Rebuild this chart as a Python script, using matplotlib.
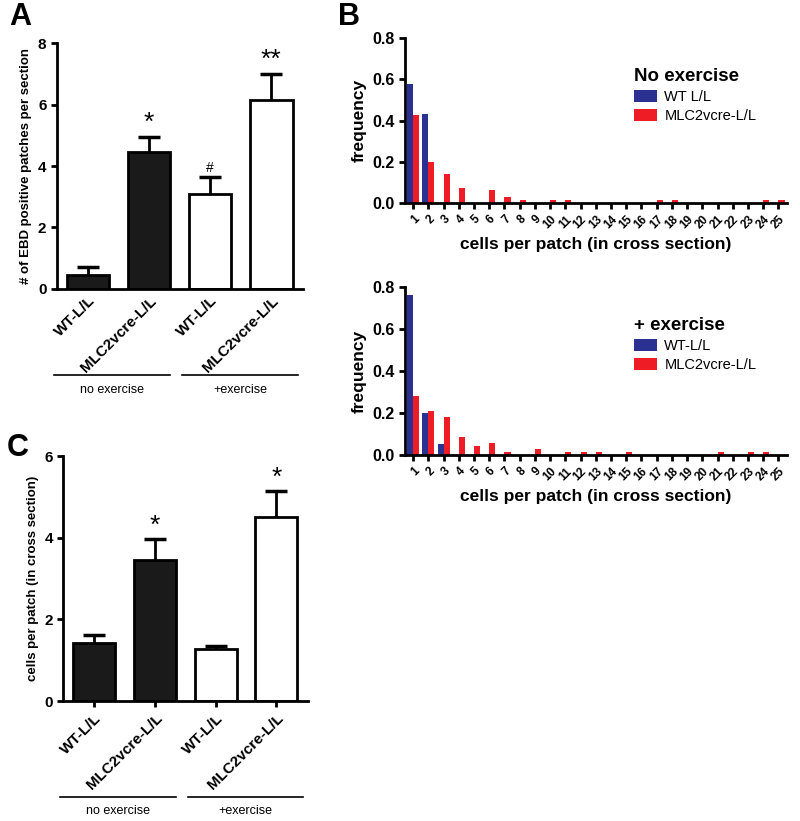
import numpy as np
import matplotlib
matplotlib.use('Agg')
from matplotlib import pyplot as plt
from matplotlib.patches import Patch

plt.rcParams['font.family'] = ['Liberation Sans', 'DejaVu Sans']

# panel A: EBD positive patches per section
groups = ['WT-L/L', 'MLC2vcre-L/L', 'WT-L/L', 'MLC2vcre-L/L']
a_mean = [0.45, 4.45, 3.1, 6.15]
a_err = [0.25, 0.5, 0.55, 0.85]
a_marks = ['', '*', '#', '**']

# panel C: cells per patch
c_mean = [1.42, 3.45, 1.28, 4.5]
c_err = [0.2, 0.52, 0.07, 0.65]
c_marks = ['', '*', '', '*']

bar_fill = ['#1a1a1a', '#1a1a1a', 'white', 'white']

# panel B: frequency distributions
cells = list(range(1, 26))
noex_wt = [0.575, 0.43] + [0] * 23
noex_mlc = [0.425, 0.2, 0.14, 0.075, 0, 0.065, 0.03, 0.015, 0, 0.015,
            0.015, 0, 0, 0, 0, 0, 0.015, 0.015, 0, 0, 0, 0, 0, 0.015, 0.015]
ex_wt = [0.76, 0.2, 0.05] + [0] * 22
ex_mlc = [0.28, 0.21, 0.18, 0.085, 0.045, 0.058, 0.015, 0, 0.03, 0,
          0.015, 0.015, 0.015, 0, 0.015, 0, 0, 0, 0, 0, 0.015, 0, 0.015, 0.015, 0]

BLUE = '#2b3190'
RED = '#ee1c25'


def style_axis(ax):
    for s in ['top', 'right']:
        ax.spines[s].set_visible(False)
    for s in ['left', 'bottom']:
        ax.spines[s].set_linewidth(2)
    ax.tick_params(width=2, length=4, direction='out')


def bar_panel(ax, means, errs, marks, ymax, ylabel, mark_off, line_y, text_y, show_xticks):
    x = np.arange(len(means))
    ax.bar(x, means, width=0.69, color=bar_fill, edgecolor='black', linewidth=2, zorder=2)
    ax.vlines(x, means, np.array(means) + np.array(errs), color='black', lw=2, zorder=1)
    ax.hlines(np.array(means) + np.array(errs), x - 0.18, x + 0.18, color='black', lw=2.5, zorder=1)
    for xi, m, e, t in zip(x, means, errs, marks):
        if t:
            fs = 19 if '*' in t else 10
            ax.text(xi, m + e + mark_off, t, ha='center', va='bottom', fontsize=fs)
    ax.set_xlim(-0.51, 3.52)
    ax.set_ylim(0, ymax)
    ax.set_yticks(np.arange(0, ymax + 1, 2))
    ax.set_xticks(x)
    ax.set_xticklabels(groups, rotation=45, ha='right', rotation_mode='anchor',
                       fontsize=11, fontweight='bold')
    style_axis(ax)
    if not show_xticks:
        ax.tick_params(axis='x', length=0)
    for lab in ax.get_yticklabels():
        lab.set_fontweight('bold')
        lab.set_fontsize(11)
    ax.set_ylabel(ylabel, fontsize=9.5, fontweight='bold')
    trans = ax.get_xaxis_transform()
    for (x0, x1, txt) in [(-0.56, 1.34, 'no exercise'), (1.54, 3.44, '+exercise')]:
        ax.plot([x0, x1], [line_y, line_y], color='black', lw=1.2, transform=trans, clip_on=False)
        ax.text((x0 + x1) / 2, text_y, txt, ha='center', va='top', fontsize=9, transform=trans)


def freq_panel(ax, wt, mlc, title, wt_label):
    x = np.array(cells)
    ax.bar(x - 0.2, wt, width=0.4, color=BLUE, zorder=2)
    ax.bar(x + 0.2, mlc, width=0.4, color=RED, zorder=2)
    ax.set_xlim(0.45, 25.55)
    ax.set_ylim(0, 0.8)
    ax.set_yticks([0, 0.2, 0.4, 0.6, 0.8])
    ax.set_yticklabels(['0.0', '0.2', '0.4', '0.6', '0.8'], fontsize=11.5, fontweight='bold')
    ax.set_xticks(x)
    ax.set_xticklabels([str(c) for c in cells], rotation=45, ha='right', rotation_mode='anchor',
                       fontsize=8.5, fontweight='bold')
    style_axis(ax)
    ax.set_ylabel('frequency', fontsize=12.5, fontweight='bold')
    ax.set_xlabel('cells per patch (in cross section)', fontsize=12.5, fontweight='bold')
    handles = [Patch(facecolor=BLUE, label=wt_label), Patch(facecolor=RED, label='MLC2vcre-L/L')]
    ax.legend(handles=handles, title=title, loc='upper left', bbox_to_anchor=(0.565, 0.9),
              frameon=False, fontsize=10.5, handlelength=1.6, handleheight=0.9,
              handletextpad=0.5, labelspacing=0.35, alignment='left',
              title_fontproperties={'weight': 'bold', 'size': 13.5})


fig = plt.figure(figsize=(8, 8.21), dpi=100)

axA = fig.add_axes([0.071, 0.648, 0.308, 0.2996])
bar_panel(axA, a_mean, a_err, a_marks, 8, '# of EBD positive patches per section',
          0.05, -0.35, -0.385, False)

axC = fig.add_axes([0.079, 0.146, 0.306, 0.2984])
bar_panel(axC, c_mean, c_err, c_marks, 6, 'cells per patch (in cross section)',
          0.03, -0.39, -0.425, True)

axB1 = fig.add_axes([0.506, 0.7527, 0.4775, 0.201])
freq_panel(axB1, noex_wt, noex_mlc, 'No exercise', 'WT L/L')

axB2 = fig.add_axes([0.506, 0.4458, 0.4775, 0.2046])
freq_panel(axB2, ex_wt, ex_mlc, '+ exercise', 'WT-L/L')

fig.text(0.012, 0.997, 'A', fontsize=22, fontweight='bold', va='top')
fig.text(0.422, 0.997, 'B', fontsize=22, fontweight='bold', va='top')
fig.text(0.008, 0.472, 'C', fontsize=22, fontweight='bold', va='top')

fig.savefig('out.png', dpi=100)
